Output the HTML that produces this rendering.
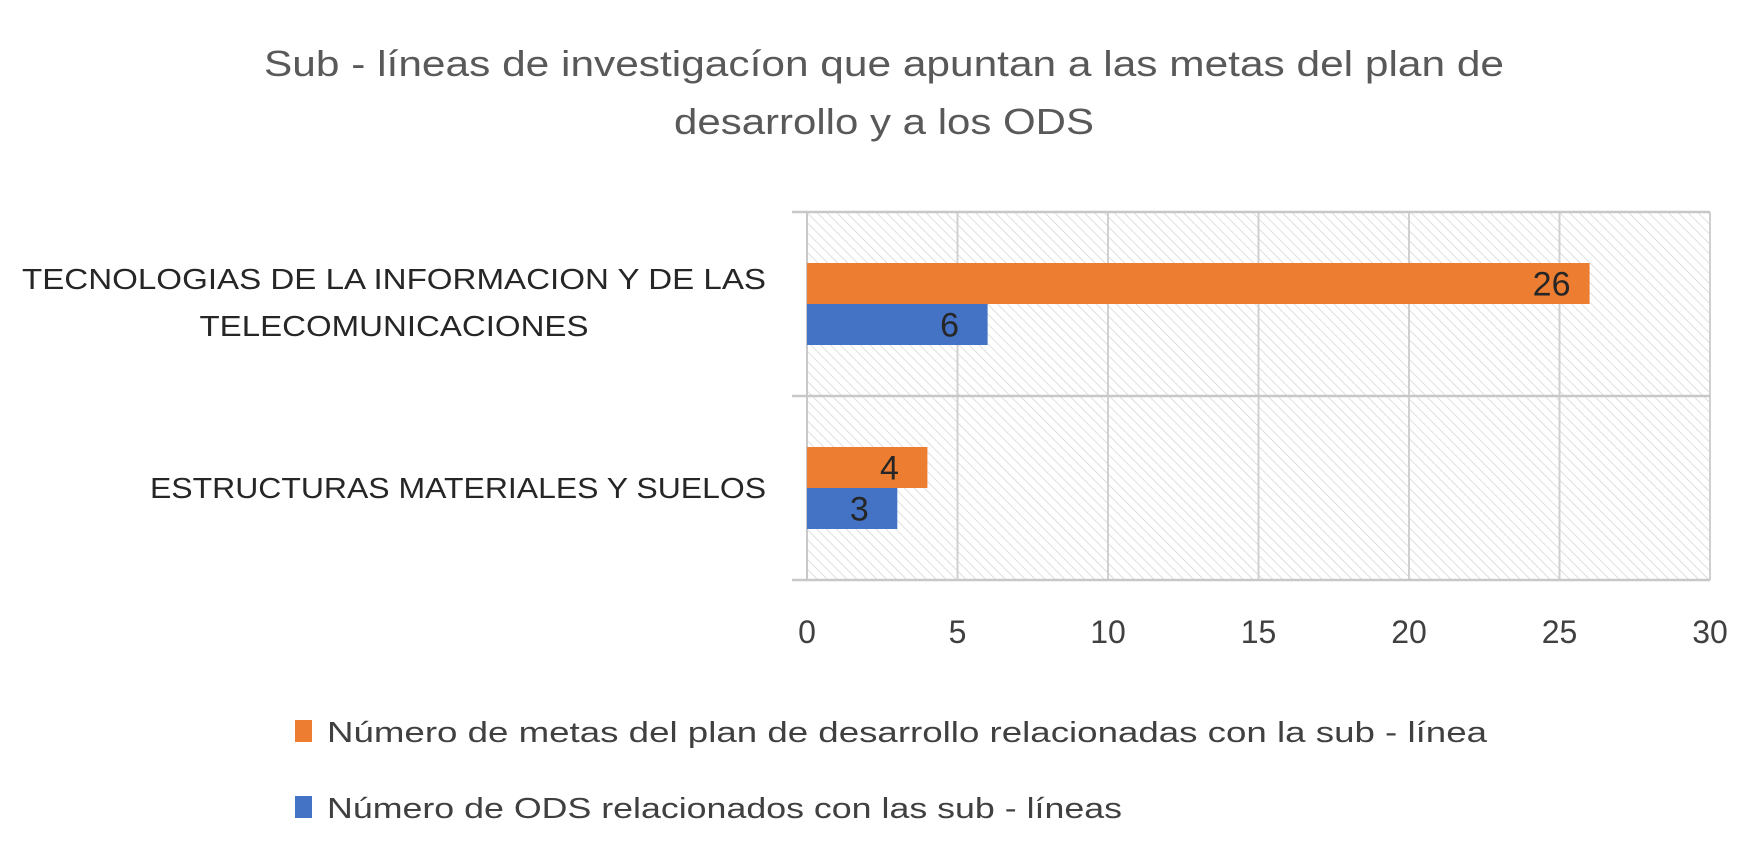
<!DOCTYPE html>
<html><head><meta charset="utf-8"><style>
html,body{margin:0;padding:0;background:#fff;}
svg{display:block;font-family:"Liberation Sans",sans-serif;}
</style></head><body>
<svg id="chart" width="1750" height="844" viewBox="0 0 1750 844" xmlns="http://www.w3.org/2000/svg">
<defs>
<pattern id="hatch" patternUnits="userSpaceOnUse" width="7" height="7" patternTransform="rotate(-45)">
<rect width="7" height="7" fill="#fff"/>
<line x1="0" y1="0" x2="0" y2="7" stroke="#cfcfcf" stroke-width="1.3"/>
</pattern>
</defs>
<text x="884" y="76" text-anchor="middle" font-size="36" fill="#595959" textLength="1240" lengthAdjust="spacingAndGlyphs">Sub - líneas de investigacíon que apuntan a las metas del plan de</text>
<text x="884" y="134" text-anchor="middle" font-size="36" fill="#595959" textLength="420" lengthAdjust="spacingAndGlyphs">desarrollo y a los ODS</text>
<g id="plot"></g>
<text x="394" y="289" text-anchor="middle" font-size="29" fill="#262626" textLength="744" lengthAdjust="spacingAndGlyphs">TECNOLOGIAS DE LA INFORMACION Y DE LAS</text>
<text x="394" y="336" text-anchor="middle" font-size="29" fill="#262626" textLength="389" lengthAdjust="spacingAndGlyphs">TELECOMUNICACIONES</text>
<text x="766" y="498" text-anchor="end" font-size="29" fill="#262626" textLength="616" lengthAdjust="spacingAndGlyphs">ESTRUCTURAS MATERIALES Y SUELOS</text>
<rect x="295" y="720" width="17" height="22" fill="#ED7D31"/>
<text x="327" y="742" font-size="29" fill="#404040" textLength="1160" lengthAdjust="spacingAndGlyphs">Número de metas del plan de desarrollo relacionadas con la sub - línea</text>
<rect x="295" y="796" width="17" height="22" fill="#4472C4"/>
<text x="327" y="818" font-size="29" fill="#404040" textLength="795" lengthAdjust="spacingAndGlyphs">Número de ODS relacionados con las sub - líneas</text>
</svg>
<script>
const categories = ["TECNOLOGIAS DE LA INFORMACION Y DE LAS TELECOMUNICACIONES", "ESTRUCTURAS MATERIALES Y SUELOS"];
const metasValues = [26, 4];
const odsValues = [6, 3];
const xTicks = [0, 5, 10, 15, 20, 25, 30];

const NS = "http://www.w3.org/2000/svg";
const g = document.getElementById("plot");
const L = 807, R = 1710, T = 212, B = 580;
const xMax = 30;
const xs = v => L + (R - L) * v / xMax;
const band = (B - T) / categories.length;
const barH = 41;
function el(tag, attrs) { const e = document.createElementNS(NS, tag); for (const k in attrs) e.setAttribute(k, attrs[k]); g.appendChild(e); return e; }

let bg = el("rect", {x: L, y: T, width: R - L, height: B - T, fill: "url(#hatch)"});



xTicks.forEach(t => {
  const gl = el("line", {x1: xs(t), x2: xs(t), y1: T, y2: B, stroke: "#d0d0d0", "stroke-width": 2});
  
  
  const tl = el("text", {x: xs(t), y: 643, "text-anchor": "middle", "font-size": 32, fill: "#404040"});
  tl.textContent = t;
  
  
});
for (let i = 0; i <= categories.length; i++) {
  const y = T + band * i;
  const hl = el("line", {x1: 792, x2: R, y1: y, y2: y, stroke: "#c8c8c8", "stroke-width": 2.5});
  
  
}
const ax = el("line", {x1: L, x2: L, y1: T, y2: B, stroke: "#c8c8c8", "stroke-width": 2});



categories.forEach((c, i) => {
  const cy = T + band * i + band / 2;
  [[metasValues[i], "#ED7D31", cy - barH, "bar-metas"], [odsValues[i], "#4472C4", cy, "bar-ods"]].forEach(([v, col, y, nm]) => {
    const r = el("rect", {x: L, y: y, width: xs(v) - L, height: barH, fill: col});
    
    
    const lb = el("text", {x: xs(v) - 38, y: y + barH / 2 + 12, "text-anchor": "middle", "font-size": 34, fill: "#262626"});
    lb.textContent = v;
    
    
  });
});
</script>
</body></html>
